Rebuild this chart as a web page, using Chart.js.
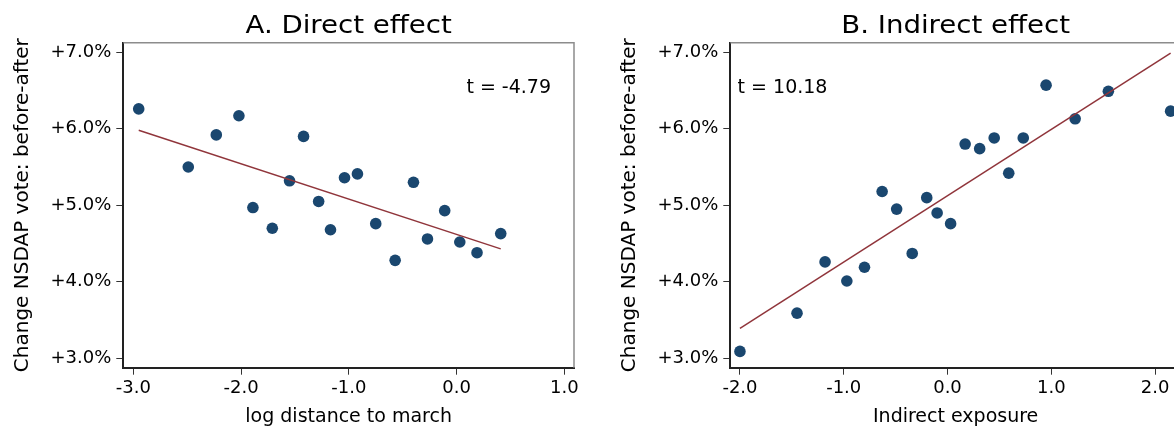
<!DOCTYPE html>
<html>
<head>
<meta charset="utf-8">
<title>Direct and indirect effect</title>
<script src="https://cdn.jsdelivr.net/npm/chart.js@4.4.1/dist/chart.umd.min.js"></script>
<style>
    html, body { margin: 0; padding: 0; background: #fff; overflow: hidden; }
    body { position: relative; width: 1174px; height: 432px; }
    .panel { position: absolute; top: 0; width: 607px; height: 432px; }
</style>
</head>
<body>
<div class="panel" style="left:0"><canvas id="direct-chart"></canvas></div>
<div class="panel" style="left:607px"><canvas id="indirect-chart"></canvas></div>
<script>
// Panel A: log distance to march (x) vs change in NSDAP vote (y, in %)
const directX = [-2.95, -2.49, -2.23, -2.02, -1.89, -1.71, -1.55, -1.42, -1.28, -1.17,
                 -1.04, -0.92, -0.75, -0.57, -0.40, -0.27, -0.11, 0.03, 0.19, 0.41];
const directY = [6.26, 5.50, 5.92, 6.17, 4.97, 4.70, 5.32, 5.90, 5.05, 4.68,
                 5.36, 5.41, 4.76, 4.28, 5.30, 4.56, 4.93, 4.52, 4.38, 4.63];
const directFitX = [-2.95, 0.41];
const directFitY = [5.98, 4.43];
const directTicks = [-3, -2, -1, 0, 1];
const directTickLabels = ['-3.0', '-2.0', '-1.0', '0.0', '1.0'];

// Panel B: indirect exposure (x) vs change in NSDAP vote (y, in %)
const indirectX = [-2.00, -1.45, -1.18, -0.97, -0.80, -0.63, -0.49, -0.34, -0.20, -0.10,
                   0.03, 0.17, 0.31, 0.45, 0.59, 0.73, 0.95, 1.23, 1.55, 2.15];
const indirectY = [3.09, 3.59, 4.26, 4.01, 4.19, 5.18, 4.95, 4.37, 5.10, 4.90,
                   4.76, 5.80, 5.74, 5.88, 5.42, 5.88, 6.57, 6.13, 6.49, 6.23];
const indirectFitX = [-2.00, 2.15];
const indirectFitY = [3.39, 6.99];
const indirectTicks = [-2, -1, 0, 1, 2];
const indirectTickLabels = ['-2.0', '-1.0', '0.0', '1.0', '2.0'];

// shared y axis
const voteTicks = [3, 4, 5, 6, 7];
const voteTickLabels = ['+3.0%', '+4.0%', '+5.0%', '+6.0%', '+7.0%'];

const FONT = "'DejaVu Sans', sans-serif";
Chart.defaults.font.family = FONT;
Chart.defaults.color = '#000';

// draws the grey top/right frame, the panel title and the t statistic
const panelDecor = {
    id: 'panelDecor',
    beforeDatasetsDraw(chart) {
        const a = chart.chartArea;
        const ctx = chart.ctx;
        ctx.save();
        ctx.strokeStyle = '#8c8c8c';
        ctx.lineWidth = 1.5;
        ctx.beginPath();
        ctx.moveTo(a.left, a.top);
        ctx.lineTo(a.right, a.top);
        ctx.lineTo(a.right, a.bottom);
        ctx.stroke();
        ctx.restore();
    },
    afterDraw(chart, args, opts) {
        const a = chart.chartArea;
        const ctx = chart.ctx;
        ctx.save();
        ctx.fillStyle = '#000';
        ctx.textBaseline = 'alphabetic';

        // title (slightly widened like the original export)
        ctx.save();
        ctx.font = '24px ' + FONT;
        ctx.textAlign = 'center';
        ctx.translate((a.left + a.right) / 2, 32.7);
        ctx.scale(1.15, 1);
        ctx.fillText(opts.title, 0, 0);
        ctx.restore();

        ctx.font = '19px ' + FONT;
        if (opts.tSide === 'right') {
            ctx.textAlign = 'right';
            ctx.fillText(opts.tText, a.right - 23, a.top + 50.6);
        } else {
            ctx.textAlign = 'left';
            ctx.fillText(opts.tText, a.left + 7.3, a.top + 50.6);
        }
        ctx.restore();
    }
};

function toPoints(xs, ys) {
    return xs.map((x, i) => ({ x: x, y: ys[i] }));
}

function createPanel(canvasId, cfg) {
    const ctx = document.getElementById(canvasId).getContext('2d');

    const tickGrid = {
        display: true,
        drawOnChartArea: false,
        drawTicks: true,
        tickLength: 7,
        color: '#333',
        lineWidth: 1
    };

    return new Chart(ctx, {
        type: 'scatter',
        data: {
            datasets: [{
                type: 'line',
                data: toPoints(cfg.fitX, cfg.fitY),
                borderColor: '#90353b',
                borderWidth: 1.5,
                pointRadius: 0,
                fill: false,
                tension: 0
            }, {
                type: 'scatter',
                data: toPoints(cfg.xs, cfg.ys),
                backgroundColor: '#1a476f',
                borderWidth: 0,
                pointRadius: 5.8
            }]
        },
        options: {
            responsive: true,
            maintainAspectRatio: false,
            animation: false,
            layout: { padding: { top: 42.7, right: 33, bottom: 0, left: 0 } },
            plugins: {
                legend: { display: false },
                tooltip: { enabled: false },
                panelDecor: { title: cfg.title, tText: cfg.tText, tSide: cfg.tSide }
            },
            scales: {
                x: {
                    type: 'linear',
                    position: 'bottom',
                    min: cfg.xMin,
                    max: cfg.xMax,
                    afterBuildTicks: scale => {
                        scale.ticks = cfg.xTicks.map(v => ({ value: v }));
                    },
                    afterFit: scale => { scale.height = 64.3; },
                    ticks: {
                        autoSkip: false,
                        maxRotation: 0,
                        padding: 3,
                        font: { size: 18 },
                        color: '#000',
                        callback: value => cfg.xLabels[cfg.xTicks.indexOf(value)]
                    },
                    grid: tickGrid,
                    border: { display: true, color: '#222', width: 2 },
                    title: {
                        display: true,
                        text: cfg.xTitle,
                        font: { size: 19 },
                        color: '#000',
                        padding: { top: 0, bottom: 4 }
                    }
                },
                y: {
                    type: 'linear',
                    position: 'left',
                    min: 2.877,
                    max: 7.125,
                    afterBuildTicks: scale => {
                        scale.ticks = voteTicks.map(v => ({ value: v }));
                    },
                    afterFit: scale => { scale.width = 123.3; },
                    ticks: {
                        autoSkip: false,
                        padding: 5,
                        font: { size: 18 },
                        color: '#000',
                        callback: value => voteTickLabels[voteTicks.indexOf(value)]
                    },
                    grid: tickGrid,
                    border: { display: true, color: '#222', width: 2 },
                    title: {
                        display: true,
                        text: 'Change NSDAP vote: before-after',
                        font: { size: 20 },
                        color: '#000',
                        padding: { top: 11, bottom: 0 }
                    }
                }
            }
        },
        plugins: [panelDecor]
    });
}

createPanel('direct-chart', {
    title: 'A. Direct effect',
    tText: 't = -4.79',
    tSide: 'right',
    xs: directX,
    ys: directY,
    fitX: directFitX,
    fitY: directFitY,
    xTicks: directTicks,
    xLabels: directTickLabels,
    xMin: -3.093,
    xMax: 1.09,
    xTitle: 'log distance to march'
});

createPanel('indirect-chart', {
    title: 'B. Indirect effect',
    tText: 't = 10.18',
    tSide: 'left',
    xs: indirectX,
    ys: indirectY,
    fitX: indirectFitX,
    fitY: indirectFitY,
    xTicks: indirectTicks,
    xLabels: indirectTickLabels,
    xMin: -2.093,
    xMax: 2.25,
    xTitle: 'Indirect exposure'
});
</script>
</body>
</html>
